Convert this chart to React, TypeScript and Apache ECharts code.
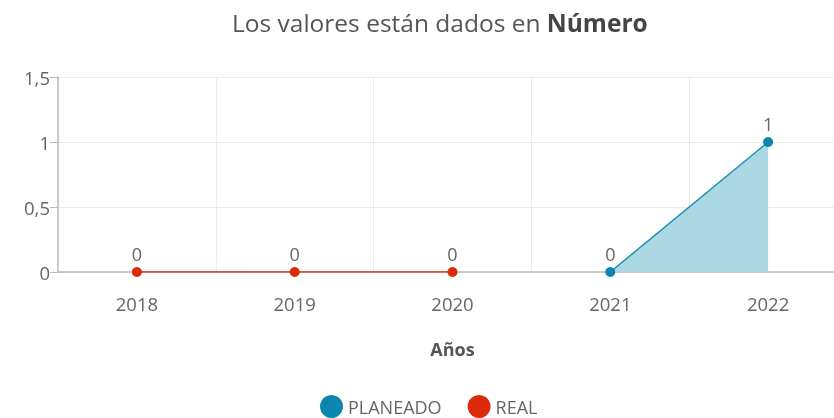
import React, { useEffect, useRef } from "react";
import * as echarts from "echarts";

const categories = ["2018", "2019", "2020", "2021", "2022"];
const planeado = [null, null, null, 0, 1];
const real = [0, 0, 0, null, null];
const seriesNames = ["PLANEADO", "REAL"];

const FONT = "'Open Sans', sans-serif";

export default function App() {
  const ref = useRef<HTMLDivElement>(null);
  useEffect(() => {
    document.body.style.margin = "0";
    const chart = echarts.init(ref.current!, null, { renderer: "svg" });
    chart.setOption({
      animation: false,
      textStyle: { fontFamily: FONT },
      title: {
        text: "Los valores están dados en {b|Número}",
        left: 227,
        top: 5,
        textStyle: {
          fontSize: 24.5,
          fontWeight: "normal",
          color: "#555",
          fontFamily: FONT,
          rich: { b: { fontSize: 24.5, fontWeight: "bold", color: "#444", fontFamily: FONT } },
        },
      },
      legend: {
        left: 315,
        top: 390,
        icon: "circle",
        itemWidth: 23,
        itemHeight: 23,
        itemGap: 26,
        textStyle: { fontSize: 18, color: "#666", fontFamily: FONT },
        data: seriesNames,
      },
      grid: { left: 58, right: 13, top: 77, height: 195 },
      xAxis: {
        type: "category",
        data: categories,
        boundaryGap: true,
        name: "Años",
        nameLocation: "middle",
        nameGap: 68,
        nameTextStyle: { fontSize: 18, fontWeight: "bold", color: "#555", fontFamily: FONT },
        axisLine: { lineStyle: { color: "#bbb", width: 1.5 } },
        axisTick: { alignWithLabel: true, length: 6, lineStyle: { color: "#bbb" } },
        axisLabel: { fontSize: 18.5, color: "#666", margin: 22, fontFamily: FONT },
        splitLine: { show: true, lineStyle: { color: "#ebebeb" } },
      },
      yAxis: {
        type: "value",
        min: 0,
        max: 1.5,
        interval: 0.5,
        axisLine: { show: true, lineStyle: { color: "#bbb", width: 1.5 } },
        axisTick: { show: true, length: 8, lineStyle: { color: "#bbb" } },
        axisLabel: {
          fontSize: 18.5,
          color: "#666",
          margin: 8,
          fontFamily: FONT,
          formatter: (v: number) => String(v).replace(".", ","),
        },
        splitLine: { lineStyle: { color: "#ebebeb" } },
      },
      series: [
        {
          name: "PLANEADO",
          type: "line",
          data: planeado,
          color: "#0b87ad",
          symbol: "circle",
          symbolSize: 10,
          lineStyle: { width: 1.5, color: "#1a90b2" },
          areaStyle: { color: "#acd8e3", opacity: 1 },
          label: { show: true, position: "top", fontSize: 18, color: "#666", distance: 4, fontFamily: FONT },
        },
        {
          name: "REAL",
          type: "line",
          data: real,
          color: "#dd2a0b",
          symbol: "circle",
          symbolSize: 10,
          lineStyle: { width: 1.5, color: "#dd2a0b" },
          label: { show: true, position: "top", fontSize: 18, color: "#666", distance: 4, fontFamily: FONT },
        },
      ],
    });
    return () => chart.dispose();
  }, []);
  return (
    <div style={{ position: "fixed", left: 0, top: 0, width: 834, height: 418, overflow: "hidden" }}>
      <div ref={ref} style={{ width: 860, height: 418 }} />
    </div>
  );
}
